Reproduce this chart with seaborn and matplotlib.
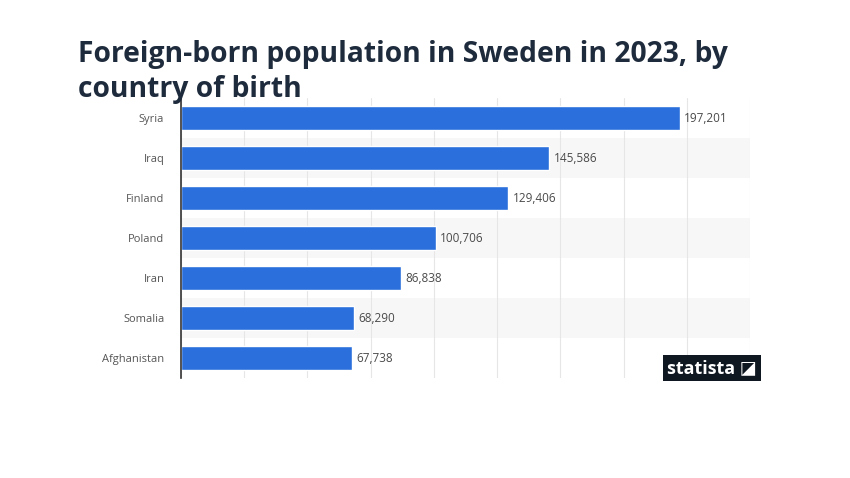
import matplotlib
matplotlib.use("Agg")
import matplotlib.pyplot as plt
import seaborn as sns
import pandas as pd
from matplotlib.ticker import MultipleLocator

countries = ["Syria", "Iraq", "Finland", "Poland", "Iran", "Somalia", "Afghanistan"]
values = [197201, 145586, 129406, 100706, 86838, 68290, 67738]
value_labels = ["197,201", "145,586", "129,406", "100,706", "86,838", "68,290", "67,738"]

df = pd.DataFrame({"country": countries, "value": values})

sns.set_theme(style="white")
plt.rcParams["font.family"] = ["Open Sans", "DejaVu Sans"]

fig = plt.figure(figsize=(8.5, 4.78), dpi=100)
ax = fig.add_axes([181/850, 1-378/478, (750-181)/850, (378-98)/478])

# alternating row bands
for i in range(len(countries)):
    if i % 2 == 1:
        ax.axhspan(i-0.5, i+0.5, color="#f7f7f7", zorder=0, lw=0)

sns.barplot(data=df, x="value", y="country", color="#2a6fdb", width=0.58,
            ax=ax, zorder=3, saturation=1)

ax.set_xlim(0, 225000)
ax.set_ylim(len(countries)-0.5, -0.5)
ax.xaxis.set_major_locator(MultipleLocator(25000))
ax.grid(axis="x", color="#e6e6e6", lw=0.8, zorder=1)
ax.set_xticklabels([])
ax.tick_params(axis="x", length=0)
ax.tick_params(axis="y", length=0, pad=12, labelsize=8, labelcolor="#555555")
ax.set_xlabel("")
ax.set_ylabel("")
for s in ["top", "right", "bottom"]:
    ax.spines[s].set_visible(False)
ax.spines["left"].set_color("#333333")
ax.spines["left"].set_linewidth(1.2)
ax.spines["left"].set_zorder(5)

for i, (v, lab) in enumerate(zip(values, value_labels)):
    ax.text(v + 1800, i, lab, va="center", ha="left", fontsize=8.5,
            color="#4a4a4a", fontweight="medium", zorder=4)

fig.text(78/850, 1-72/478, "Foreign-born population in Sweden in 2023, by\ncountry of birth",
         fontsize=20.3, fontweight="bold", color="#1e2b3c", va="center", ha="left",
         linespacing=1.25)

fig.text(712/850, 1-368/478, "statista \u25ea", fontsize=13, color="white",
         fontweight="bold", va="center", ha="center",
         bbox=dict(boxstyle="square,pad=0.22", fc="#0f1720", ec="none"))

fig.savefig("out.png", dpi=100, facecolor="white")
